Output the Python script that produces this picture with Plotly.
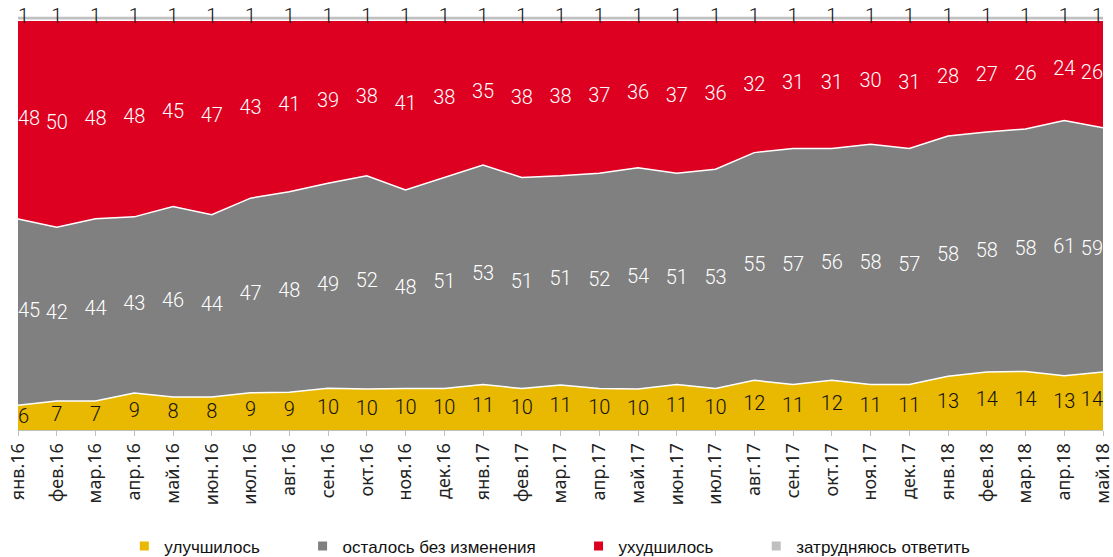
import plotly.graph_objects as go

months = ["янв.16", "фев.16", "мар.16", "апр.16", "май.16", "июн.16", "июл.16", "авг.16",
          "сен.16", "окт.16", "ноя.16", "дек.16", "янв.17", "фев.17", "мар.17", "апр.17",
          "май.17", "июн.17", "июл.17", "авг.17", "сен.17", "окт.17", "ноя.17", "дек.17",
          "янв.18", "фев.18", "мар.18", "апр.18", "май.18"]

improved = [6, 7, 7, 9, 8, 8, 9, 9, 10, 10, 10, 10, 11, 10, 11, 10, 10, 11, 10, 12, 11, 12, 11, 11, 13, 14, 14, 13, 14]
same = [45, 42, 44, 43, 46, 44, 47, 48, 49, 52, 48, 51, 53, 51, 51, 52, 54, 51, 53, 55, 57, 56, 58, 57, 58, 58, 58, 61, 59]
worse = [48, 50, 48, 48, 45, 47, 43, 41, 39, 38, 41, 38, 35, 38, 38, 37, 36, 37, 36, 32, 31, 31, 30, 31, 28, 27, 26, 24, 26]
hard = [1] * 29

names = ["улучшилось", "осталось без изменения", "ухудшилось", "затрудняюсь ответить"]
colors = ["#E9B800", "#808080", "#DD0021", "#C0C0C0"]
label_colors = ["#111111", "#FFFFFF", "#FFFFFF", "#111111"]
series = [improved, same, worse, hard]

LABEL_FONT = "Roboto, Liberation Sans, sans-serif"
LEGEND_FONT = "Liberation Sans, Arial, sans-serif"

fig = go.Figure()
for i, (vals, nm, col) in enumerate(zip(series, names, colors)):
    fig.add_trace(go.Scatter(
        x=months, y=vals, mode="lines", stackgroup="one",
        groupnorm="percent" if i == 0 else None,
        line=dict(color="white", width=1.5), fillcolor=col,
        name=nm, showlegend=False, hoverinfo="skip"))

# labels at middle of each band (normalized)
n = len(months)
totals = [sum(s[k] for s in series) for k in range(n)]
cum = [0.0] * n
positions = ["middle right"] + ["middle center"] * (n - 2) + ["middle left"]
for vals, lc in zip(series, label_colors):
    mids = []
    for k in range(n):
        p = vals[k] / totals[k] * 100
        mids.append(cum[k] + p / 2)
        cum[k] += p
    fig.add_trace(go.Scatter(
        x=months, y=mids, mode="text", text=[str(v) for v in vals],
        textposition=positions, cliponaxis=False,
        textfont=dict(family=LABEL_FONT, size=20, color=lc, weight=300),
        showlegend=False, hoverinfo="skip"))

# legend entries
for j, (nm, col) in enumerate(zip(names, colors)):
    pad = "\u00a0" * 8 if j < len(names) - 1 else ""
    fig.add_trace(go.Scatter(
        x=[None], y=[None], mode="markers", name=nm + pad,
        marker=dict(symbol="square", size=9, color=col)))

fig.update_layout(
    width=1113, height=557,
    margin=dict(l=18, r=10, t=16, b=127, autoexpand=False),
    plot_bgcolor="white", paper_bgcolor="white",
    showlegend=True,
    legend=dict(orientation="h", x=0.098, xanchor="left",
                y=-0.281, yanchor="middle",
                traceorder="normal", bgcolor="rgba(0,0,0,0)",
                font=dict(family=LEGEND_FONT, size=17, color="#111111"),
                itemwidth=30, tracegroupgap=0),
    xaxis=dict(type="category", range=[0, n - 1], tickangle=-90, automargin=False,
               showline=True, linecolor="#BFBFBF", linewidth=1,
               ticks="outside", ticklen=5, tickcolor="#BFBFBF",
               tickfont=dict(family="Noto Sans, sans-serif", size=18, color="#222222"),
               showgrid=False, zeroline=False, fixedrange=True),
    yaxis=dict(range=[0, 100], visible=False, automargin=False,
               showgrid=False, zeroline=False, fixedrange=True),
)

fig.write_html("out.html", config={"displayModeBar": False},
               post_script="document.body.style.margin='0';")
